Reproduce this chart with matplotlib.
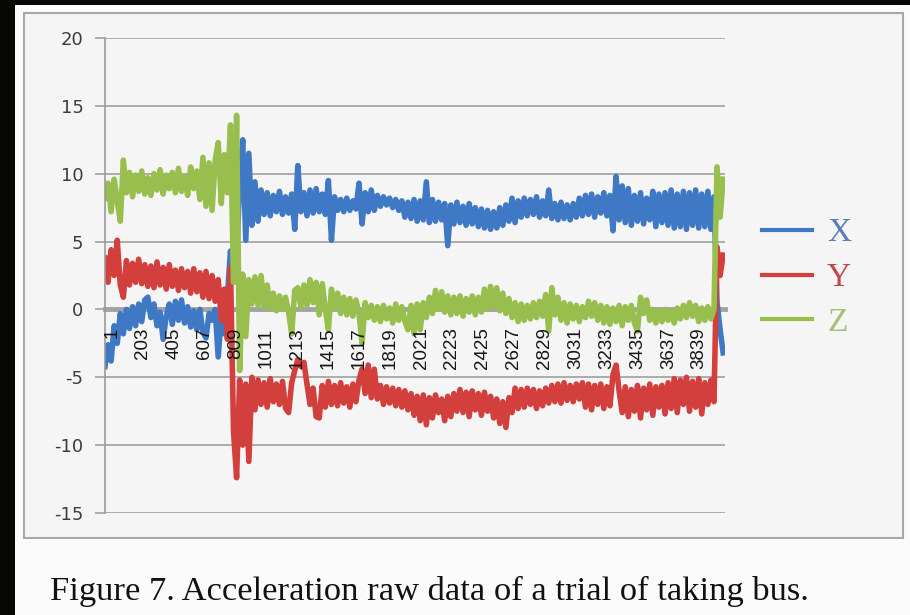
import numpy as np
import matplotlib
matplotlib.use("Agg")
import matplotlib.pyplot as plt
import matplotlib.transforms as mtransforms
from matplotlib.patches import Rectangle

# acceleration samples, one value read every 20 samples
x_vals = [
    -4.2, -2.6, -3.8, -1.2, -2.5, -0.3, -1.8, 0.0, -1.4, 0.2,
    -1.2, 0.4, -0.9, 0.7, 0.9, -0.6, 0.4, -1.2, -0.2, -2.2,
    -0.5, 0.4, -1.1, 0.6, -0.8, 0.7, -1.0, 0.2, -1.3, -0.1,
    -1.5, 0.0, -1.7, -2.1, -0.3, -0.8, 0.0, -3.5, -0.5, -1.8,
    1.0, 4.3, 2.0, 4.0, 9.0, 12.5, 5.1, 11.5, 6.2, 9.4,
    6.5, 8.8, 7.0, 8.6, 6.9, 8.4, 7.2, 8.7, 7.0, 8.3,
    7.1, 8.5, 5.9, 10.6, 7.2, 8.6, 6.9, 8.8, 7.1, 8.9,
    7.2, 8.5, 7.0, 9.5, 5.1, 8.3, 7.3, 8.1, 7.2, 8.2,
    7.3, 8.0, 7.4, 9.3, 6.3, 8.6, 7.2, 8.8, 7.3, 8.4,
    7.6, 8.3, 7.7, 8.2, 7.5, 8.1, 7.3, 8.0, 6.8, 7.9,
    6.7, 8.1, 6.5, 8.0, 6.6, 9.4, 6.4, 8.1, 6.5, 7.9,
    6.6, 7.8, 4.7, 7.7, 6.3, 7.9, 6.4, 7.6, 6.2, 7.8,
    6.3, 7.5, 6.1, 7.4, 6.0, 7.3, 5.9, 7.2, 6.0, 7.5,
    6.2, 7.7, 6.5, 8.2, 6.4, 8.0, 6.8, 8.2, 6.9, 8.1,
    7.0, 8.3, 6.8, 8.0, 6.9, 8.8, 6.7, 7.8, 6.6, 7.9,
    6.7, 7.7, 6.6, 7.8, 6.8, 8.2, 6.9, 8.4, 7.0, 8.5,
    6.8, 8.3, 7.1, 8.6, 6.9, 8.4, 5.8, 9.8, 6.6, 9.1,
    6.4, 8.9, 6.2, 8.4, 6.5, 8.6, 6.3, 8.2, 6.6, 8.7,
    6.1, 8.5, 6.4, 8.6, 6.2, 8.8, 6.0, 8.5, 6.1, 8.7,
    5.9, 8.6, 6.2, 8.8, 6.0, 8.5, 6.1, 8.7, 5.9, 8.3,
    0.5, -1.5, -3.2,
]

y_vals = [
    3.8, 2.0, 4.4, 2.5, 5.1, 1.8, 0.9, 3.6, 1.8, 3.4,
    2.0, 3.7, 1.9, 3.3, 1.7, 3.2, 1.6, 3.5, 1.8, 3.1,
    1.5, 3.3, 1.7, 2.9, 1.4, 3.0, 1.6, 2.8, 1.2, 3.0,
    1.3, 2.7, 0.9, 2.8, 0.8, 2.5, 0.6, 2.2, -0.8, 1.5,
    -2.2, 3.1, -9.0, -12.4, -5.2, -10.0, -5.5, -11.2, -5.0, -7.4,
    -5.2, -7.0, -5.4, -7.2, -5.1, -6.8, -5.5, -7.0, -5.3, -7.3,
    -7.6, -5.4, -4.5, -3.7, -4.2, -3.9, -5.5, -7.0, -5.8, -7.9,
    -8.0, -5.6, -7.2, -5.3, -7.0, -5.6, -7.1, -5.4, -6.9, -5.7,
    -7.2, -5.5, -6.8, -5.2, -4.4, -6.2, -4.1, -6.5, -4.4, -6.6,
    -5.6, -7.0, -5.7, -6.9, -5.8, -7.1, -5.9, -7.2, -6.0, -7.4,
    -6.2, -7.8, -6.4, -8.2, -6.3, -8.5, -6.5, -8.0, -6.3, -7.6,
    -6.6, -8.2, -6.4, -7.9, -6.2, -7.5, -5.9, -7.6, -6.1, -7.9,
    -6.0, -7.4, -6.2, -7.8, -6.1, -7.5, -6.4, -8.0, -6.6, -8.4,
    -6.8, -8.7, -6.5, -7.6, -5.8, -7.3, -5.9, -7.2, -5.8, -7.0,
    -5.9, -7.3, -6.0, -7.1, -5.8, -6.9, -5.6, -6.8, -5.5, -6.9,
    -5.4, -6.7, -5.6, -6.8, -5.5, -6.6, -5.4, -7.2, -5.5, -7.4,
    -5.6, -7.0, -5.5, -7.3, -5.7, -7.1, -4.8, -4.1, -6.0, -7.6,
    -5.7, -7.9, -5.9, -7.5, -5.6, -8.0, -5.8, -7.4, -5.5, -7.8,
    -5.7, -7.2, -5.6, -7.7, -5.4, -7.3, -5.1, -7.6, -5.2, -7.0,
    -5.0, -7.5, -5.3, -7.2, -5.1, -7.7, -5.4, -7.0, -5.2, -6.8,
    4.6, 2.5, 4.0,
]

z_vals = [
    8.2, 9.3, 7.2, 9.6, 8.0, 6.5, 11.0, 8.6, 10.1, 8.3,
    9.9, 8.7, 10.2, 8.5, 9.7, 8.4, 10.0, 8.8, 10.3, 8.5,
    9.9, 8.9, 10.1, 8.6, 10.4, 8.7, 9.8, 8.4, 10.5, 8.9,
    10.2, 8.1, 11.2, 7.6, 10.8, 7.3, 11.0, 12.3, 7.8, 11.4,
    8.6, 13.6, 2.0, 14.3, -4.5, 2.6, -2.0, 2.2, 0.4, 2.4,
    0.3, 2.5, 0.2, 1.8, 0.1, 1.2, -0.1, 1.0, 0.0, 0.9,
    -0.2, -1.8, 1.4, 1.6, 0.2, 1.8, 0.3, 2.2, 0.5, 2.0,
    -0.4, 1.9, 0.0, -1.5, 1.5, 0.1, 1.2, -0.3, 0.9, -0.4,
    0.8, -0.5, 0.7, -0.3, -2.5, 0.5, -0.6, 0.3, -0.8, 0.2,
    -0.9, 0.3, -0.7, 0.1, -1.0, 0.4, -0.8, 0.2, -0.9, -1.5,
    0.3, -1.8, 0.4, -1.5, 0.5, -0.6, 0.9, -0.3, 1.4, 0.0,
    1.3, -0.2, 1.0, -0.4, 0.9, -0.3, 1.0, -0.5, 0.8, -0.2,
    1.0, -0.4, 0.9, -0.2, 1.5, 0.0, 1.7, 0.2, 1.6, -0.1,
    1.2, -0.3, 0.8, -0.6, 0.5, -0.9, 0.4, -0.8, 0.3, -0.7,
    0.5, -0.6, 0.6, -0.5, 1.1, -1.6, 1.6, -0.4, 0.9, -0.8,
    0.5, -1.0, 0.4, -0.7, 0.3, -0.9, 0.2, -0.6, 0.6, -0.5,
    0.5, -0.8, 0.3, -1.0, 0.2, -1.1, 0.1, -0.9, 0.3, -1.2,
    0.2, -0.8, 0.3, -1.0, -1.6, 0.9, -0.3, 0.7, -0.8, 0.0,
    -1.0, -0.1, -0.9, 0.0, -0.8, -0.1, -1.0, 0.1, -0.7, 0.3,
    -0.6, 0.5, -0.5, 0.3, -0.9, 0.1, -0.8, 0.2, -0.7, 0.0,
    10.5, 6.8, 9.6,
]

series_names = ['X', 'Y', 'Z']
series_colors = ['#3f79c6', '#d23f3c', '#98bf4e']
legend_text_colors = ['#5b7cb8', '#c0474a', '#a5bf72']

y_ticks = [-15, -10, -5, 0, 5, 10, 15, 20]
y_tick_labels = ['-15', '-10', '-5', '0', '5', '10', '15', '20']
x_tick_labels = ['1', '203', '405', '607', '809', '1011', '1213', '1415',
                 '1617', '1819', '2021', '2223', '2425', '2627', '2829',
                 '3031', '3233', '3435', '3637', '3839']

caption = 'Figure 7. Acceleration raw data of a trial of taking bus.'
step = 20
n_samples = 4053


def make_plot():
    fig = plt.figure(figsize=(9.1, 6.15), dpi=100)
    fig.patch.set_facecolor('#fbfbfb')

    #  dark border of the scanned page
    fig.patches.append(Rectangle((0, 0), 15 / 910, 1, transform=fig.transFigure,
                                 facecolor='#070704', edgecolor='none', zorder=-2))
    fig.patches.append(Rectangle((0, 1 - 5 / 615), 1, 5 / 615,
                                 transform=fig.transFigure,
                                 facecolor='#070704', edgecolor='none', zorder=-2))
    #  chart frame
    fig.patches.append(Rectangle((24 / 910, 1 - 538 / 615), 879 / 910, 525 / 615,
                                 transform=fig.transFigure, facecolor='#f5f5f5',
                                 edgecolor='#a8a8a8', linewidth=1.5, zorder=-1))

    ax = fig.add_axes([105 / 910, 1 - 513 / 615, 620 / 910, 475 / 615])
    ax.set_facecolor('none')
    ax.set_zorder(1)

    lines = []
    for vals, name, col in zip([x_vals, y_vals, z_vals], series_names,
                               series_colors):
        idx = 1 + step * np.arange(len(vals))
        ln, = ax.plot(idx, vals, color=col, linewidth=4.0, label=name,
                      solid_joinstyle='round', zorder=2)
        lines.append(ln)

    ax.set_xlim(1, n_samples)
    ax.set_ylim(-15, 20)

    ax.set_yticks(y_ticks)
    ax.set_yticklabels(y_tick_labels)
    ax.tick_params(axis='y', direction='out', length=7, width=1.2,
                   color='#a0a0a0', pad=8.5, labelsize=13,
                   labelcolor='#3c3c3c')
    ax.grid(axis='y', color='#a6a6a6', linewidth=1.3, zorder=0)
    ax.set_axisbelow(True)

    ax.spines['top'].set_visible(False)
    ax.spines['right'].set_visible(False)
    ax.spines['left'].set_color('#9a9a9a')
    ax.spines['left'].set_linewidth(1.2)
    ax.spines['bottom'].set_position(('data', 0))
    ax.spines['bottom'].set_color('#a3a3a3')
    ax.spines['bottom'].set_linewidth(3.5)
    ax.spines['bottom'].set_zorder(1)
    ax.xaxis.set_zorder(3)

    x_pos = [int(s) for s in x_tick_labels]
    ax.set_xticks(x_pos)
    ax.tick_params(axis='x', length=0, pad=13, labelrotation=90,
                   labelsize=13.5, labelcolor='#151515')
    ax.set_xticklabels(x_tick_labels, family='Liberation Sans')
    #  the labels sit a little right of their sample in the original
    shift = mtransforms.ScaledTranslation(0.07, 0, fig.dpi_scale_trans)
    for lab in ax.get_xticklabels():
        lab.set_transform(lab.get_transform() + shift)

    leg = ax.legend(handles=lines, loc='center left',
                    bbox_to_anchor=(762 / 910, 1 - 278 / 615),
                    bbox_transform=fig.transFigure, frameon=False,
                    prop={'family': 'Liberation Serif', 'size': 24},
                    labelcolor=legend_text_colors, handlelength=1.5,
                    handletextpad=0.45, labelspacing=0.43, borderpad=0,
                    borderaxespad=0)
    for hl in leg.get_lines():
        hl.set_linewidth(3)

    fig.text(50 / 910, 1 - 600 / 615, caption, family='Liberation Serif',
             fontsize=24.8, color='#111111', va='baseline', ha='left')

    fig.savefig('out.png', dpi=100, facecolor=fig.get_facecolor())


if __name__ == '__main__':
    make_plot()
